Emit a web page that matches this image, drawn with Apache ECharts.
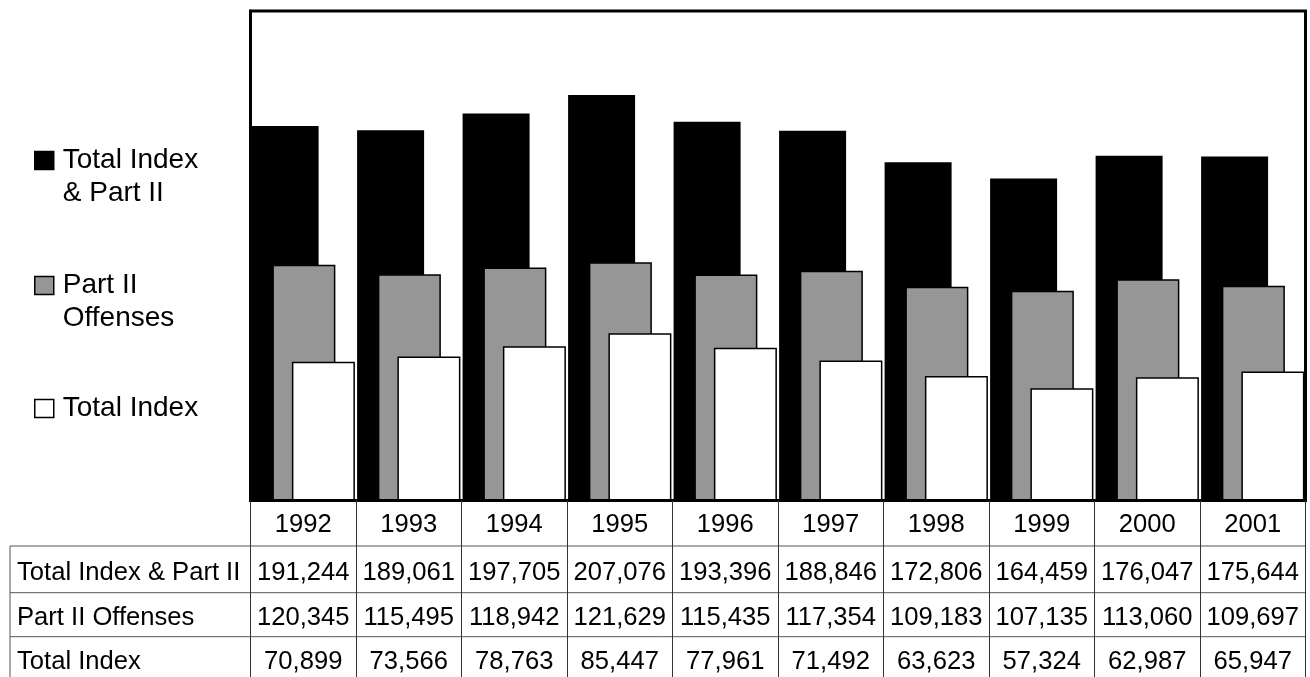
<!DOCTYPE html>
<html>
<head>
<meta charset="utf-8">
<title>Offenses 1992-2001</title>
<script src="https://cdn.jsdelivr.net/npm/echarts@6.0.0/dist/echarts.min.js"></script>
<style>
  html, body { margin: 0; padding: 0; background: #fff; }
  #chart { width: 1310px; height: 677px; }
</style>
</head>
<body>
<div id="chart"></div>
<script>
// data
const years = ['1992', '1993', '1994', '1995', '1996', '1997', '1998', '1999', '2000', '2001'];
const totalIndexPartII = [191244, 189061, 197705, 207076, 193396, 188846, 172806, 164459, 176047, 175644];
const partIIOffenses = [120345, 115495, 118942, 121629, 115435, 117354, 109183, 107135, 113060, 109697];
const totalIndex = [70899, 73566, 78763, 85447, 77961, 71492, 63623, 57324, 62987, 65947];

const seriesNames = ['Total Index & Part II', 'Part II Offenses', 'Total Index'];
// leading blank line keeps the first text line level with the legend square
const legendLabels = ['\nTotal Index\n& Part II', '\nPart II\nOffenses', 'Total Index'];

const FONT = 'Liberation Sans, Arial, sans-serif';
const TABLE_FONT_SIZE = 25.6;
const GRID = { left: 250.5, right: 4.5, top: 11, bottom: 176.5 };
const AXIS_Y = 677 - GRID.bottom;
const ruleY = [546, 592.7, 636.7];   // table row separators
const rowCenters = [573, 618, 661.5]; // centre of each table row

const myChart = echarts.init(document.getElementById('chart'), null, { renderer: 'canvas' });

const fmt = (v) => v.toLocaleString('en-US');

// one hidden axis per table row, its labels are the cells
const rowValues = [totalIndexPartII, partIIOffenses, totalIndex];
const rowAxes = rowValues.map((vals, r) => ({
  type: 'category',
  gridIndex: 0,
  position: 'bottom',
  offset: rowCenters[r] - AXIS_Y,
  data: years,
  axisLine: { show: false },
  axisTick: { show: false },
  splitLine: { show: false },
  axisLabel: {
    interval: 0,
    margin: 0,
    verticalAlign: 'middle',
    fontFamily: FONT,
    fontSize: TABLE_FONT_SIZE,
    color: '#000',
    formatter: (v, i) => fmt(vals[i])
  },
  name: seriesNames[r],
  nameLocation: 'start',
  nameGap: 233.5,
  nameTextStyle: {
    align: 'left',
    verticalAlign: 'middle',
    fontFamily: FONT,
    fontSize: TABLE_FONT_SIZE,
    color: '#000'
  }
}));

const tableLines = ruleY.map((y) => ({
  type: 'line',
  shape: { x1: 10, y1: y, x2: 1310 - GRID.right, y2: y },
  style: { stroke: '#555', lineWidth: 1 },
  silent: true
}));
tableLines.push({
  type: 'line',
  shape: { x1: 10, y1: ruleY[0], x2: 10, y2: 677 },
  style: { stroke: '#555', lineWidth: 1 },
  silent: true
});

const option = {
  animation: false,
  backgroundColor: '#fff',
  textStyle: { fontFamily: FONT },
  grid: {
    left: GRID.left,
    right: GRID.right,
    top: GRID.top,
    bottom: GRID.bottom,
    containLabel: false,
    outerBoundsMode: 'none',
    show: true,
    borderColor: '#000',
    borderWidth: 3,
    backgroundColor: 'transparent'
  },
  legend: {
    orient: 'vertical',
    left: 34,
    top: 111,
    padding: 0,
    itemWidth: 19,
    itemHeight: 18,
    itemGap: 26,
    selectedMode: false,
    icon: 'rect',
    itemStyle: { borderColor: '#000', borderWidth: 1.5 },
    textStyle: { fontFamily: FONT, fontSize: 28, color: '#000', lineHeight: 33, padding: [0, 0, 0, 4] },
    formatter: (name) => legendLabels[seriesNames.indexOf(name)],
    data: [
      { name: seriesNames[0] },
      { name: seriesNames[1] },
      { name: seriesNames[2], textStyle: { padding: [31, 0, 31, 4] } }
    ]
  },
  xAxis: [
    {
      type: 'category',
      gridIndex: 0,
      position: 'bottom',
      data: years,
      z: 5,
      axisLine: { show: true, lineStyle: { color: '#000', width: 3 } },
      axisTick: { show: true, interval: 0, length: GRID.bottom, lineStyle: { color: '#333', width: 1 } },
      axisLabel: {
        interval: 0,
        margin: 24,
        verticalAlign: 'middle',
        fontFamily: FONT,
        fontSize: TABLE_FONT_SIZE,
        color: '#000'
      },
      splitLine: { show: false }
    },
    ...rowAxes
  ],
  yAxis: {
    type: 'value',
    min: 0,
    max: 250000,
    z: 5,
    axisLine: { show: true, lineStyle: { color: '#000', width: 3 } },
    axisTick: { show: false },
    axisLabel: { show: false },
    splitLine: { show: false }
  },
  series: [
    {
      name: seriesNames[0],
      type: 'bar',
      data: totalIndexPartII,
      barWidth: 67,
      barGap: '-69%',
      itemStyle: { color: '#000' }
    },
    {
      name: seriesNames[1],
      type: 'bar',
      data: partIIOffenses,
      barWidth: 63,
      barGap: '-69%',
      itemStyle: { color: '#969696', borderColor: '#000', borderWidth: 1.5 }
    },
    {
      name: seriesNames[2],
      type: 'bar',
      data: totalIndex,
      barWidth: 63,
      barGap: '-69%',
      itemStyle: { color: '#fff', borderColor: '#000', borderWidth: 1.5 }
    }
  ],
  graphic: tableLines
};

myChart.setOption(option);
window.addEventListener('resize', () => myChart.resize());
</script>
</body>
</html>
